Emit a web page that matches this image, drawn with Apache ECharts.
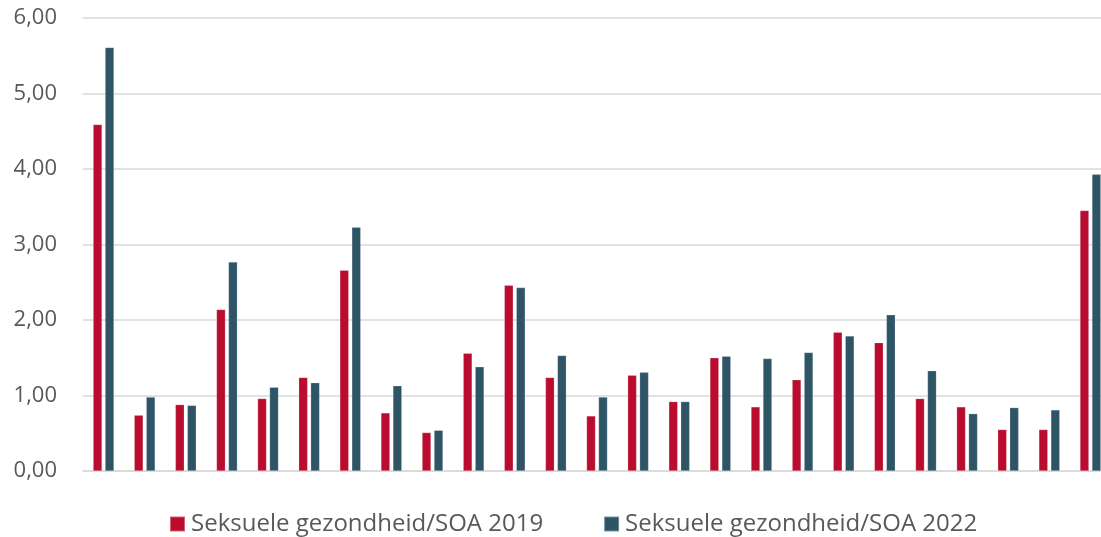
<!DOCTYPE html>
<html>
<head>
<meta charset="utf-8">
<script src="https://cdn.jsdelivr.net/npm/echarts@6/dist/echarts.min.js"></script>
<style>
  html, body { margin: 0; padding: 0; background: #fff; }
  #container { width: 1101px; height: 537px; }
</style>
</head>
<body>
<div id="container"></div>
<script>
var categories = ['1', '2', '3', '4', '5', '6', '7', '8', '9', '10', '11', '12', '13',
    '14', '15', '16', '17', '18', '19', '20', '21', '22', '23', '24', '25'];
var seriesNames = ['Seksuele gezondheid/SOA 2019', 'Seksuele gezondheid/SOA 2022'];
var values2019 = [4.59, 0.74, 0.88, 2.14, 0.96, 1.24, 2.66, 0.77, 0.51, 1.56, 2.46, 1.24, 0.73,
    1.27, 0.92, 1.50, 0.85, 1.21, 1.84, 1.70, 0.96, 0.85, 0.55, 0.55, 3.45];
var values2022 = [5.61, 0.98, 0.87, 2.77, 1.11, 1.17, 3.23, 1.13, 0.54, 1.38, 2.43, 1.53, 0.98,
    1.31, 0.92, 1.52, 1.49, 1.57, 1.79, 2.07, 1.33, 0.76, 0.84, 0.81, 3.93];

var dom = document.getElementById('container');
var myChart = echarts.init(dom);
var option = {
    animation: false,
    textStyle: { fontFamily: 'Open Sans' },
    // plot is a bit wider than the canvas, the last pair gets clipped on the right
    grid: { left: 83, width: 1028, top: 18, bottom: 66, outerBoundsMode: 'none' },
    legend: {
        left: 169,
        top: 512,
        padding: 0,
        icon: 'rect',
        itemWidth: 15,
        itemHeight: 15,
        itemGap: 60,
        textStyle: { color: '#595959', fontSize: 24, fontFamily: 'Open Sans', padding: [0, 0, 0, 1] },
        data: seriesNames
    },
    xAxis: {
        type: 'category',
        data: categories,
        axisLine: { show: true, lineStyle: { color: '#d9d9d9', width: 1.5 } },
        axisTick: { show: false },
        axisLabel: { show: false }
    },
    yAxis: {
        type: 'value',
        min: 0,
        max: 6,
        interval: 1,
        axisLine: { show: false },
        axisTick: { show: false },
        axisLabel: {
            margin: 26,
            color: '#595959',
            fontSize: 22,
            formatter: function (v) { return v.toFixed(2).replace('.', ','); }
        },
        splitLine: { lineStyle: { color: '#d9d9d9', width: 1.5 } }
    },
    series: [
        {
            name: seriesNames[0],
            type: 'bar',
            data: values2019,
            barWidth: 9,
            barGap: '33%',
            itemStyle: { color: '#ba0c2f', borderColor: 'rgba(255,255,255,0.35)', borderWidth: 0.6 }
        },
        {
            name: seriesNames[1],
            type: 'bar',
            data: values2022,
            barWidth: 9,
            barGap: '33%',
            itemStyle: { color: '#2e5566', borderColor: 'rgba(255,255,255,0.35)', borderWidth: 0.6 }
        }
    ]
};
myChart.setOption(option, true);
</script>
</body>
</html>
